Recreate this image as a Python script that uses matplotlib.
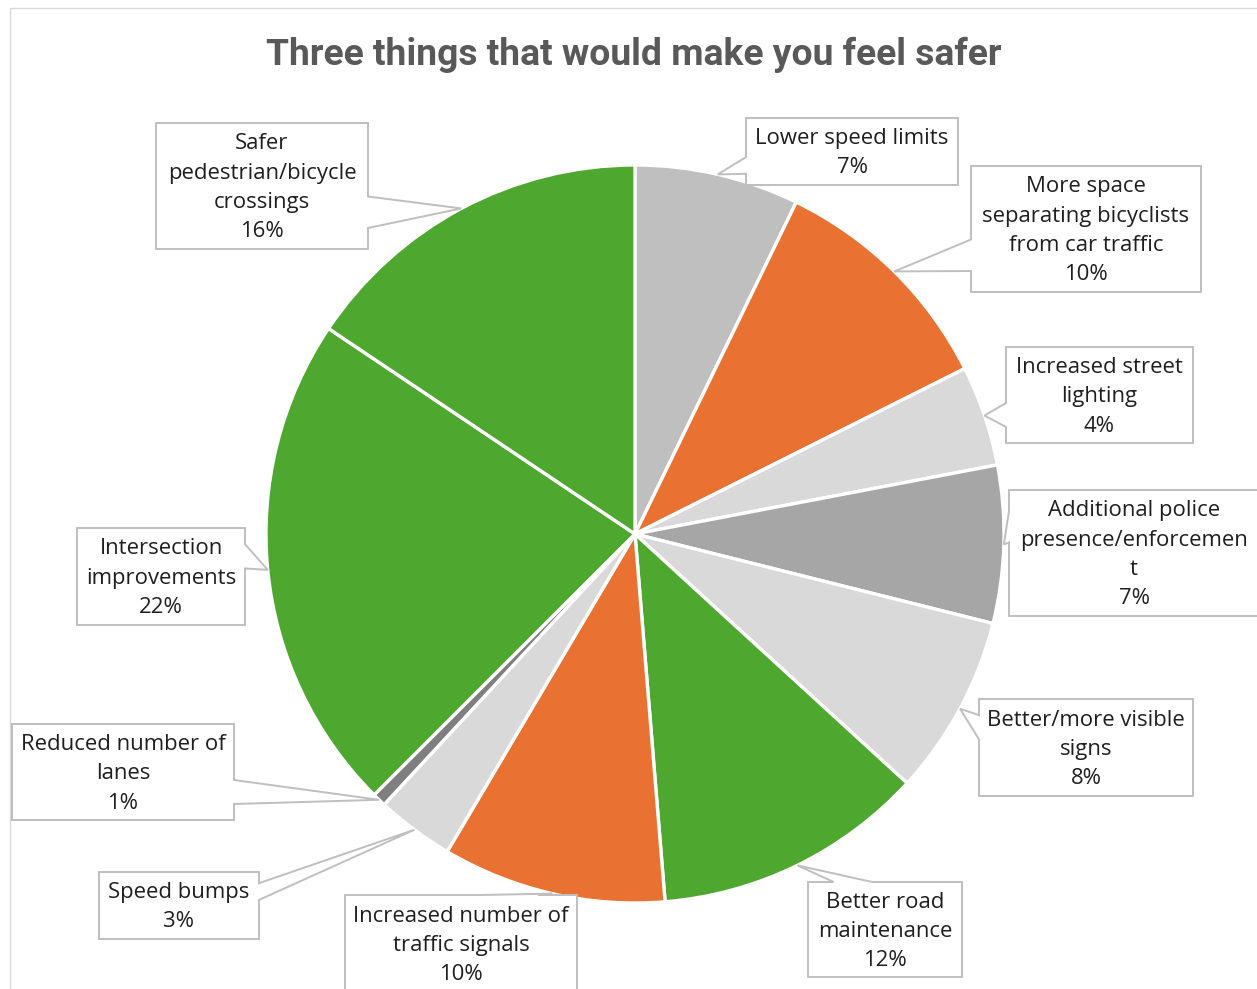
import math
import matplotlib
matplotlib.use("Agg")
import matplotlib.pyplot as plt
from matplotlib.patches import Polygon, Rectangle

# ---------------- data ----------------
title = "Three things that would make you feel safer"
categories = [
    "Lower speed limits",
    "More space\nseparating bicyclists\nfrom car traffic",
    "Increased street\nlighting",
    "Additional police\npresence/enforcemen\nt",
    "Better/more visible\nsigns",
    "Better road\nmaintenance",
    "Increased number of\ntraffic signals",
    "Speed bumps",
    "Reduced number of\nlanes",
    "Intersection\nimprovements",
    "Safer\npedestrian/bicycle\ncrossings",
]
shares = [7.2, 10.4, 4.4, 6.9, 7.9, 11.9, 9.8, 3.4, 0.6, 21.9, 15.6]
slice_colors = ["#BFBFBF", "#E97132", "#D9D9D9", "#A6A6A6", "#D9D9D9",
                "#4EA72E", "#E97132", "#D9D9D9", "#7F7F7F", "#4EA72E", "#4EA72E"]

# ---------------- layout (pixels, y down) ----------------
W, H = 1257, 989
cx, cy, R = 635, 534, 369
label_boxes = [
    (746, 118, 958, 185),
    (971, 166, 1201, 292),
    (1006, 347, 1193, 443),
    (1009, 490, 1259, 616),
    (979, 699, 1193, 796),
    (808, 882, 962, 977),
    (345, 895, 577, 992),
    (99, 872, 259, 939),
    (12, 724, 234, 820),
    (77, 528, 245, 625),
    (156, 123, 368, 249),
]
label_family = ["Open Sans", "DejaVu Sans"]
title_family = ["Roboto", "DejaVu Sans"]
text_color = "#1F1F1F"
box_edge = "#BFBFBF"
pitch = 29.3

fig = plt.figure(figsize=(W / 100, H / 100), dpi=100)
ax = fig.add_axes([0, 0, 1, 1])
wedges, _ = ax.pie(shares, colors=slice_colors, startangle=90, counterclock=False,
                   center=(cx, H - cy), radius=R,
                   wedgeprops=dict(edgecolor="white", linewidth=2.4))
ax.set_xlim(0, W)
ax.set_ylim(0, H)
ax.set_aspect("auto")
ax.axis("off")

# chart border (only left/top visible in crop)
ax.add_patch(Rectangle((10, -20), W + 30, H - 8 + 20, fill=False,
                       edgecolor="#D9D9D9", linewidth=1.0, zorder=0.5))

renderer = fig.canvas.get_renderer()


def fit_size(text, family, weight, target):
    t = fig.text(0, 0, text, fontsize=20, family=family, weight=weight)
    w = t.get_window_extent(renderer).width
    t.remove()
    return 20 * target / w


label_fs = fit_size("Lower speed limits", label_family, "normal", 193)
title_fs = fit_size(title, title_family, "bold", 735)


def callout(l, t, r, b, tip):
    w, h = r - l, b - t
    hc, vc = (l + r) / 2, (t + b) / 2
    dx, dy = tip[0] - hc, tip[1] - vc
    dq = dx * h / w
    if abs(dy) - abs(dq) > 0:
        g1, g2 = (7, 10) if dx > 0 else (2, 5)
        x1, x2 = l + w * g1 / 12, l + w * g2 / 12
        if dy < 0:
            pts = [(l, t), (x1, t), tip, (x2, t), (r, t), (r, b), (l, b)]
        else:
            pts = [(l, t), (r, t), (r, b), (x2, b), tip, (x1, b), (l, b)]
    else:
        g1, g2 = (7, 10) if dy > 0 else (2, 5)
        y1, y2 = t + h * g1 / 12, t + h * g2 / 12
        if dx > 0:
            pts = [(l, t), (r, t), (r, y1), tip, (r, y2), (r, b), (l, b)]
        else:
            pts = [(l, t), (r, t), (r, b), (l, b), (l, y2), tip, (l, y1)]
    return [(x, H - y) for x, y in pts]


for wdg, cat, val, box in zip(wedges, categories, shares, label_boxes):
    mid = math.radians((wdg.theta1 + wdg.theta2) / 2)
    tip = (cx + R * math.cos(mid), cy - R * math.sin(mid))
    ax.add_patch(Polygon(callout(*box, tip), closed=True, facecolor="white",
                         edgecolor=box_edge, linewidth=1.4, zorder=3,
                         joinstyle="miter"))
    lines = cat.split("\n") + [f"{math.floor(val + 0.5)}%"]
    xc = (box[0] + box[2]) / 2
    yc = (box[1] + box[3]) / 2
    n = len(lines)
    for i, ln in enumerate(lines):
        ycen = yc + (i - (n - 1) / 2) * pitch
        ax.text(xc, H - (ycen + 7.3), ln, ha="center", va="baseline",
                fontsize=label_fs, family=label_family, color=text_color, zorder=4)

ax.text(634, H - 65, title, ha="center", va="baseline", fontsize=title_fs,
        family=title_family, weight="bold", color="#595959", zorder=4)

fig.savefig("out.png", dpi=100)
